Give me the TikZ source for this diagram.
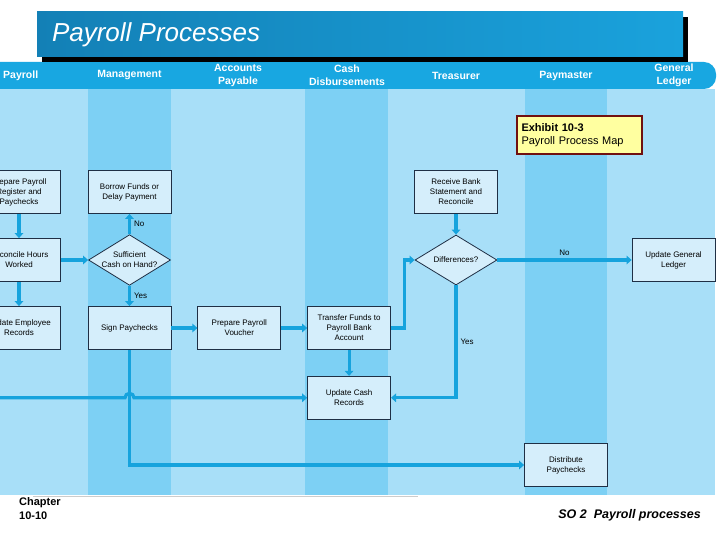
\documentclass[tikz,border=0pt]{standalone}
\usepackage{fontspec}
\setmainfont{Liberation Sans}
\usetikzlibrary{arrows.meta, positioning, calc, shapes.geometric, shadows}

\definecolor{lanelight}{HTML}{A8DFF8}
\definecolor{lanedark}{HTML}{7DD0F4}
\definecolor{headblue}{HTML}{18A7E1}
\definecolor{boxfill}{HTML}{D5EEFB}
\definecolor{boxline}{HTML}{1F2F45}
\definecolor{flowblue}{HTML}{16A3DD}
\definecolor{titleleft}{HTML}{1380B6}
\definecolor{titleright}{HTML}{1AA2DC}
\definecolor{exhfill}{HTML}{FFFFA0}
\definecolor{exhline}{HTML}{701010}

\begin{document}
\begin{tikzpicture}[x=1pt, y=-1pt,
    box/.style={rectangle, draw=boxline, line width=0.8pt, fill=boxfill, minimum width=83pt, minimum height=43pt, align=center, inner sep=2pt, font=\fontsize{8}{10}\selectfont},
    decision/.style={diamond, draw=boxline, line width=0.8pt, fill=boxfill, aspect=1.6, inner sep=0pt, minimum width=82pt, minimum height=50pt, align=center, font=\fontsize{8}{10}\selectfont},
    flow/.style={-{Triangle[length=5pt, width=8.5pt]}, line width=3.2pt, draw=flowblue},
    flow_label/.style={font=\fontsize{8}{10}\selectfont, inner sep=3pt},
    lane_label/.style={font=\fontsize{10.5}{13}\selectfont\bfseries, text=white, align=center, inner sep=0pt},
    titlebar/.style={rectangle, minimum width=646pt, minimum height=45pt, left color=titleleft, right color=titleright, drop shadow={fill=black, opacity=1, shadow xshift=5pt, shadow yshift=-5pt}},
    title_text/.style={font=\fontsize{26}{30}\selectfont\itshape, text=white, inner sep=0pt},
    exhibit/.style={rectangle, draw=exhline, line width=2.5pt, fill=exhfill, minimum width=125pt, minimum height=38pt, text width=116pt, align=left, font=\fontsize{11}{13}\selectfont, inner sep=3pt}
]
    % Page and clipping
    \clip (0,0) rectangle (720,540);
    \fill[white] (0,0) rectangle (720,540);

    % ===================== SWIM LANES =====================
    \fill[lanelight] (0,89) rectangle (715,495);
    \foreach \xa/\xb in {88/171, 305/388, 525/607} {
        \fill[lanedark] (\xa,89) rectangle (\xb,495);
    }
    \draw[gray!40, line width=0.6pt] (33,496) -- (418,496);

    % Lane header band
    \fill[headblue, rounded corners=12pt] (-20,62) rectangle (716,89);
    \node[lane_label, anchor=west] (lpay) at (3,75.5) {Payroll};
    \node[lane_label] (lman) at (129.5,75.5) {Management};
    \node[lane_label] (lap) at (238,75.5) {Accounts\\Payable};
    \node[lane_label] (lcash) at (347,75.5) {Cash\\Disbursements};
    \node[lane_label] (ltreas) at (456,75.5) {Treasurer};
    \node[lane_label] (lpaym) at (566,75.5) {Paymaster};
    \node[lane_label] (lgl) at (674,75.5) {General\\Ledger};

    % Title bar
    \node[titlebar] (tbar) at (360,34.5) {};
    \node[title_text, anchor=west] (ttext) at ([xshift=15pt]tbar.west) {Payroll Processes};

    % Exhibit tag
    \node[exhibit] (exh) at (579.5,135) {\textbf{Exhibit 10-3}\\Payroll Process Map};

    % ===================== PROCESS STEPS =====================
    \node[box] (prep) at (19,192) {Prepare Payroll\\Register and\\Paychecks};
    \node[box] (recon) at (19,260) {Reconcile Hours\\Worked};
    \node[box] (updemp) at (19,328) {Update Employee\\Records};

    \node[box] (borrow) at (129.5,192) {Borrow Funds or\\Delay Payment};
    \node[decision] (suff) at (129.5,260) {Sufficient\\Cash on Hand?};
    \node[box] (sign) at (129.5,328) {Sign Paychecks};

    \node[box, right=26pt of sign] (voucher) {Prepare Payroll\\Voucher};
    \node[box, right=26pt of voucher] (transfer) {Transfer Funds to\\Payroll Bank\\Account};
    \node[box, below=26pt of transfer] (updcash) {Update Cash\\Records};

    \node[box] (bank) at (456,192) {Receive Bank\\Statement and\\Reconcile};
    \node[decision] (diff) at (456,260) {Differences?};
    \node[box] (updgl) at (673.5,260) {Update General\\Ledger};

    \node[box] (distrib) at (566,465) {Distribute\\Paychecks};

    \coordinate (offleft) at (0,0 |- updcash.west);

    % ===================== FLOWS =====================
    \draw[flow] (prep) -- (recon);
    \draw[flow] (recon) -- (updemp);
    \draw[flow] (recon) -- (suff);
    \draw[flow] (suff) -- node[flow_label, right] {No} (borrow);
    \draw[flow] (suff) -- node[flow_label, right] {Yes} (sign);
    \draw[flow] (sign) -- (voucher);
    \draw[flow] (voucher) -- (transfer);
    \draw[flow] (transfer) -- (updcash);
    \draw[flow] (transfer.east) -- ++(13.5,0) |- (diff.west);
    \draw[flow] (bank) -- (diff);
    \draw[flow] (diff) -- node[flow_label, above] {No} (updgl);
    \draw[flow] (diff.south) |- node[flow_label, right, pos=0.25] {Yes} (updcash.east);
    \draw[flow] (sign.south) |- (distrib.west);
    \draw[flow] (offleft) -- ($(sign.south |- offleft)+(-4.5,0)$) arc[start angle=180, end angle=0, radius=4.5pt] -- (updcash.west);

    % Footer
    \node[anchor=north west, align=left, inner sep=0pt, font=\fontsize{11}{14}\selectfont\bfseries] (chap) at (19,497) {Chapter\\10-10};
    \node[anchor=east, inner sep=0pt, font=\fontsize{12.5}{15}\selectfont\bfseries\itshape] (so) at (701,515) {SO 2\ \ Payroll processes};
\end{tikzpicture}
\end{document}
